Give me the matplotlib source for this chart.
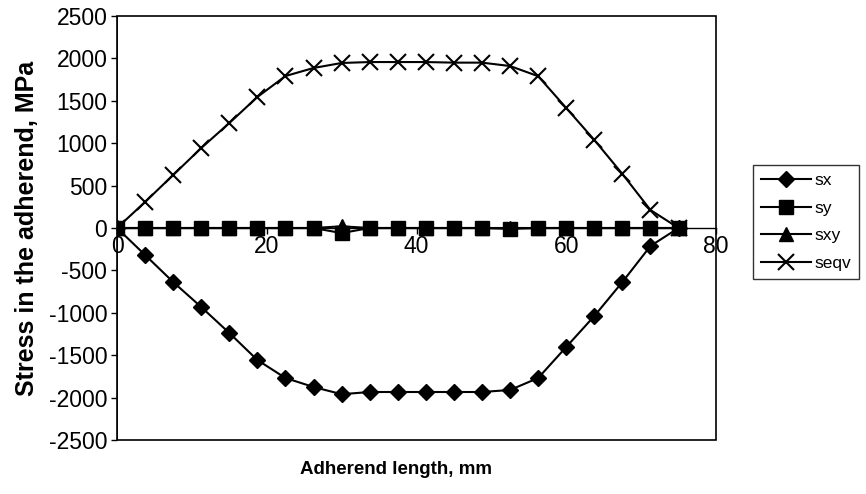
import matplotlib
matplotlib.use("Agg")
import matplotlib.pyplot as plt

# Données (longueur en mm, contraintes en MPa)
length_mm = [0, 3.75, 7.5, 11.25, 15, 18.75, 22.5, 26.25, 30, 33.75, 37.5,
             41.25, 45, 48.75, 52.5, 56.25, 60, 63.75, 67.5, 71.25, 75]
sx = [0, -318, -637, -932, -1238, -1557, -1769, -1875, -1960, -1934, -1934,
      -1934, -1934, -1934, -1910, -1769, -1403, -1038, -637, -212, 0]
sy = [0, 0, 0, 0, 0, 0, 0, 0, -60, 0, 0,
      0, 0, 0, -10, 0, 0, 0, 0, 0, 0]
sxy = [0, 0, 0, 0, 0, 0, 0, 0, 20, 0, 0,
       0, 0, 0, 0, 0, 0, 0, 0, 0, 0]
seqv = [0, 307, 625, 943, 1238, 1545, 1792, 1887, 1946, 1957, 1957,
        1957, 1950, 1950, 1910, 1790, 1415, 1038, 637, 212, 0]

x_ticks = [0, 20, 40, 60, 80]
y_ticks = [-2500, -2000, -1500, -1000, -500, 0, 500, 1000, 1500, 2000, 2500]

plt.rcParams['font.family'] = ['Liberation Sans', 'DejaVu Sans']
plt.rcParams['axes.unicode_minus'] = False

fig = plt.figure(figsize=(8.66, 4.94), dpi=100)
ax = fig.add_axes([117 / 866, 54 / 494, 599 / 866, 424 / 494])

style = dict(color='black', linewidth=1.5)
ax.plot(length_mm, sx, marker='D', markersize=8.5, label='sx', **style)
ax.plot(length_mm, sy, marker='s', markersize=9.5, label='sy', **style)
ax.plot(length_mm, sxy, marker='^', markersize=9.5, label='sxy', **style)
ax.plot(length_mm, seqv, marker='x', markersize=11, markeredgewidth=1.5,
        label='seqv', **style)

ax.set_xlim(0, 80)
ax.set_ylim(-2500, 2500)
ax.set_xticks(x_ticks)
ax.set_yticks(y_ticks)
ax.tick_params(labelsize=16.5, length=4, width=1, colors='black')

# Axe des x croisant à zéro, cadre complet autour de la zone de tracé
for side in ['top', 'right', 'left']:
    ax.spines[side].set_visible(False)
ax.spines['bottom'].set_position(('data', 0))
ax.spines['bottom'].set_linewidth(1)
ax.patch.set_edgecolor('black')
ax.patch.set_linewidth(1.2)
ax.tick_params(axis='x', direction='out', pad=1)
ax.tick_params(axis='y', pad=3)
ax.axvline(0, color='black', linewidth=1.2, zorder=1)

ax.set_xlabel('Adherend length, mm', fontsize=13.5, fontweight='bold')
ax.xaxis.set_label_coords(0.465, -0.05)
ax.set_ylabel('Stress in the adherend, MPa', fontsize=18, fontweight='bold')
ax.yaxis.set_label_coords(-0.13, 0.5)

leg = ax.legend(loc='upper left', bbox_to_anchor=(753 / 866, 1 - 165 / 494),
                bbox_transform=fig.transFigure, fontsize=12.5, frameon=True,
                fancybox=False, handlelength=2.9, labelspacing=0.72,
                borderpad=0.45, handletextpad=0.2, borderaxespad=0)
leg.get_frame().set_edgecolor('black')
leg.get_frame().set_linewidth(1)

fig.savefig('out.png', dpi=100)
